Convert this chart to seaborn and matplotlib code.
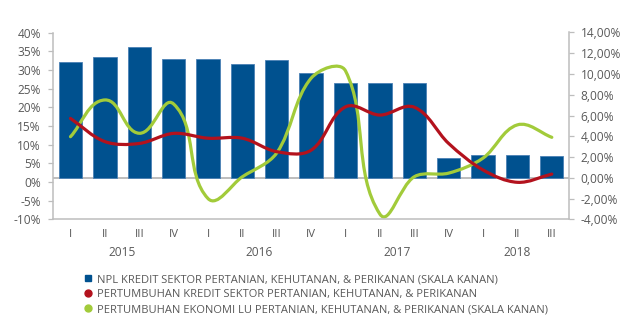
import numpy as np
import pandas as pd
import seaborn as sns
import matplotlib
matplotlib.use("Agg")
import matplotlib.pyplot as plt
from matplotlib.path import Path
from matplotlib.patches import PathPatch
from matplotlib.lines import Line2D
import matplotlib.transforms as mtransforms

# Quarterly data, 2015 Q1 .. 2018 Q3
years = ["2015", "2016", "2017", "2018"]
quarters = ["I", "II", "III", "IV", "I", "II", "III", "IV",
            "I", "II", "III", "IV", "I", "II", "III"]
npl = [11.18, 11.61, 12.57, 11.47, 11.47, 10.99, 11.32, 10.10,
       9.10, 9.10, 9.10, 1.94, 2.20, 2.20, 2.10]             # right scale, %
kredit = [17.0, 10.8, 10.3, 13.0, 11.7, 11.7, 8.1, 8.5,
          20.1, 17.9, 20.0, 10.3, 3.2, -0.1, 2.1]            # left scale, %
ekonomi = [3.96, 7.5, 4.29, 7.11, -2.0, 0.1, 2.4, 9.6,
           10.3, -3.5, 0.1, 0.45, 1.9, 5.1, 3.9]             # right scale, %

labels = [
    "NPL KREDIT SEKTOR PERTANIAN, KEHUTANAN, & PERIKANAN (SKALA KANAN)",
    "PERTUMBUHAN KREDIT SEKTOR PERTANIAN, KEHUTANAN, & PERIKANAN",
    "PERTUMBUHAN EKONOMI LU PERTANIAN, KEHUTANAN, & PERIKANAN (SKALA KANAN)",
]

BLUE = "#00518F"
RED = "#B3121D"
GREEN = "#A2CB3A"
GRAY = "#BDBDBD"
TXT = "#595959"

sns.set_style("white")
plt.rcParams["font.family"] = ["Open Sans", "DejaVu Sans"]

df = pd.DataFrame({"idx": np.arange(len(quarters)), "npl": npl})

fig = plt.figure(figsize=(6.27, 3.2), dpi=100)
ax = fig.add_axes([53.3 / 627, 1 - 219.3 / 320, (569 - 53.3) / 627, (219.3 - 32.5) / 320])
ax2 = ax.twinx()

n = len(quarters)
for a in (ax, ax2):
    a.set_xlim(-0.5, n - 0.5)
ax.set_ylim(-10, 40)
ax2.set_ylim(-4, 14)


def smooth_path(a, xs, ys, k=1 / 3):
    """Smoothed line through the points: cubic Bezier segments whose
    tangents follow the neighbouring points and whose handle length
    scales with the segment length (computed in screen space)."""
    pts = a.transData.transform(np.column_stack([xs, ys]).astype(float))
    m = len(pts)
    tang = []
    for i in range(m):
        p_prev = pts[i - 1] if i > 0 else pts[i]
        p_next = pts[i + 1] if i + 1 < m else pts[i]
        d = p_next - p_prev
        tang.append(d / np.hypot(*d))
    verts = [pts[0]]
    codes = [Path.MOVETO]
    for i in range(m - 1):
        seg = np.hypot(*(pts[i + 1] - pts[i]))
        c1 = pts[i] + tang[i] * seg * k
        c2 = pts[i + 1] - tang[i + 1] * seg * k
        verts += [c1, c2, pts[i + 1]]
        codes += [Path.CURVE4] * 3
    verts = a.transData.inverted().transform(np.array(verts))
    return Path(verts, codes)


x = np.arange(n)

# Bars on the right scale
ax2.axhline(0, color=GRAY, lw=1.4, zorder=1)
sns.barplot(data=df, x="idx", y="npl", ax=ax2, color=BLUE, width=0.68,
            saturation=1, edgecolor="#4A80B5", linewidth=0.6, zorder=2)
ax2.set_xlim(-0.5, n - 0.5)
ax2.add_patch(PathPatch(smooth_path(ax2, x, ekonomi), fill=False, edgecolor=GREEN,
                        lw=2.3, capstyle="round", joinstyle="round", zorder=4))

# Red line on the left scale, drawn above the bars
ax.add_patch(PathPatch(smooth_path(ax, x, kredit), fill=False, edgecolor=RED,
                       lw=2.3, capstyle="round", joinstyle="round", zorder=5))
ax.set_zorder(ax2.get_zorder() + 1)
ax.patch.set_visible(False)

ax.set_yticks(np.arange(-10, 41, 5))
ax.set_yticklabels([f"{v}%" for v in range(-10, 41, 5)])
ax2.set_yticks(np.arange(-4, 15, 2))
ax2.set_yticklabels([f"{v:.2f}%".replace(".", ",") for v in range(-4, 15, 2)])
for a, pad in ((ax, 5.5), (ax2, 5)):
    a.set_xlabel("")
    a.set_ylabel("")
    a.tick_params(axis="y", colors=GRAY, labelcolor=TXT, labelsize=8.6,
                  length=3.5, width=0.9, direction="out", pad=pad)
    for s in a.spines.values():
        s.set_color(GRAY)
        s.set_linewidth(1.1)
    a.spines["top"].set_visible(False)
ax.spines["right"].set_visible(False)
ax2.spines["left"].set_visible(False)
ax2.spines["bottom"].set_visible(False)

# Two-level category axis: quarter separators and year separators
bounds = np.arange(-0.5, n, 1.0)
year_bounds = [-0.5, 3.5, 7.5, 11.5, n - 0.5]
ax.set_xticks(year_bounds)
ax.set_xticks([b for b in bounds if b not in year_bounds], minor=True)
ax.tick_params(axis="x", which="major", length=33, width=0.9, color=GRAY,
               labelbottom=False, direction="out")
ax.tick_params(axis="x", which="minor", length=16.3, width=0.9, color=GRAY,
               labelbottom=False, direction="out")
ax2.set_xticks([])

trans = mtransforms.blended_transform_factory(ax.transData, ax.transAxes)
for i, q in enumerate(quarters):
    ax.text(i, -0.079, q, transform=trans, ha="center", va="center",
            fontsize=8.2, color=TXT)
for k, yr in enumerate(years):
    mid = (year_bounds[k] + year_bounds[k + 1]) / 2
    ax.text(mid, -0.179, yr, transform=trans, ha="center", va="center",
            fontsize=8.6, color=TXT)

handles = [
    Line2D([], [], marker="s", ls="none", color=BLUE, markersize=4.8),
    Line2D([], [], marker="o", ls="none", color=RED, markersize=5.0),
    Line2D([], [], marker="o", ls="none", color=GREEN, markersize=5.0),
]
leg = fig.legend(handles, labels, loc="upper left",
                 bbox_to_anchor=(85 / 627, 1 - 274 / 320), frameon=False,
                 fontsize=8.05, handlelength=0.6, handletextpad=0.45,
                 labelspacing=0.36, borderaxespad=0, borderpad=0)
for t in leg.get_texts():
    t.set_color(TXT)

fig.savefig("out.png", dpi=100, facecolor="white")
